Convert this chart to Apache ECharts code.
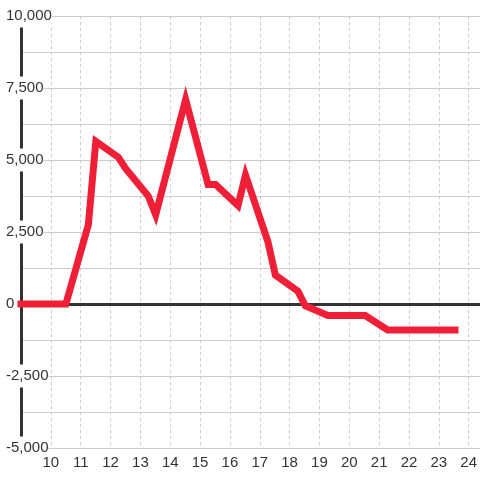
<!DOCTYPE html>
<html>
<head>
<meta charset="utf-8">
<title>Line chart</title>
<script src="https://cdn.jsdelivr.net/npm/echarts@6/dist/echarts.min.js"></script>
<style>
    html, body { margin: 0; padding: 0; background: #fff; }
    #line-chart-container { width: 480px; height: 480px; }
</style>
</head>
<body>
<div id="line-chart-container"></div>
<script>
// Hours (x) and values (y)
var hours  = [9, 10.5, 11.25, 11.5, 12.25, 12.5, 13.25, 13.5, 14.5, 15.25, 15.5, 16.25, 16.5, 17.25, 17.5, 18.25, 18.5, 19.25, 20.5, 21.25, 23.5];
var values = [0, 0, 2750, 5650, 5100, 4700, 3750, 3100, 7100, 4150, 4150, 3420, 4480, 2160, 1000, 450, -60, -400, -400, -900, -900];

// Axis ticks
var xTickLabels = [10, 11, 12, 13, 14, 15, 16, 17, 18, 19, 20, 21, 22, 23, 24];
var yTicks = [-5000, -2500, 0, 2500, 5000, 7500, 10000];

var LineChartBasic = function () {

    var _setLineChart = function () {
        if (typeof echarts == 'undefined') {
            console.warn('Warning - echarts.min.js is not loaded.');
            return;
        }

        // Define element
        var lineChartElement = document.getElementById('line-chart-container');
        if (!lineChartElement) return;

        // Initialize chart
        var lineChart = echarts.init(lineChartElement);

        var points = [];
        for (var i = 0; i < hours.length; i++) {
            points.push([hours[i], values[i]]);
        }

        var xMin = 9;
        var xMax = xTickLabels[xTickLabels.length - 1];

        var option = {
            animation: false,
            textStyle: {
                fontFamily: '"Liberation Sans", Arial, sans-serif'
            },
            // grid 0: data, y axis, horizontal lines (runs to the right edge)
            // grid 1: hour labels and dotted lines (stops at the last hour)
            grid: [{
                left: 21,
                right: 0,
                top: 16,
                bottom: 32
            }, {
                left: 21,
                right: 10,
                top: 16,
                bottom: 32
            }],
            xAxis: [{
                gridIndex: 0,
                type: 'value',
                min: xMin,
                max: 24.335,
                axisLine: {
                    onZero: true,
                    lineStyle: { color: '#333', width: 3 }
                },
                axisTick: { show: false },
                axisLabel: { show: false },
                splitLine: { show: false }
            }, {
                gridIndex: 1,
                type: 'value',
                min: xMin,
                max: xMax,
                interval: 1,
                axisLine: { show: false },
                axisTick: { show: false },
                axisLabel: {
                    color: '#333',
                    fontSize: 15,
                    margin: 7,
                    formatter: function (v) {
                        return xTickLabels.indexOf(v) >= 0 ? String(v) : '';
                    }
                },
                splitLine: {
                    show: true,
                    lineStyle: { color: '#ccc', width: 1, type: [3, 3] }
                }
            }],
            yAxis: [{
                gridIndex: 0,
                type: 'value',
                min: yTicks[0],
                max: yTicks[yTicks.length - 1],
                interval: 2500,
                axisLine: {
                    show: true,
                    lineStyle: { color: '#333', width: 3 }
                },
                axisTick: { show: false },
                axisLabel: {
                    color: '#333',
                    fontSize: 15,
                    align: 'left',
                    margin: 15,
                    backgroundColor: '#fff',
                    padding: [4, 0, 4, 0],
                    formatter: function (v) {
                        return v.toLocaleString('en-US');
                    }
                },
                splitLine: {
                    show: true,
                    lineStyle: { color: '#ccc', width: 1 }
                },
                minorTick: { show: false, splitNumber: 2 },
                minorSplitLine: {
                    show: true,
                    lineStyle: { color: '#ccc', width: 1 }
                }
            }, {
                gridIndex: 1,
                type: 'value',
                min: yTicks[0],
                max: yTicks[yTicks.length - 1],
                show: false
            }],
            series: [{
                type: 'line',
                xAxisIndex: 0,
                yAxisIndex: 0,
                data: points,
                symbol: 'none',
                z: 5,
                lineStyle: {
                    color: '#EE1F36',
                    width: 7,
                    cap: 'square',
                    join: 'miter'
                }
            }]
        };

        lineChart.setOption(option);

        // On window resize
        window.addEventListener('resize', function () {
            lineChart.resize();
        });
    };

    return {
        init: function () {
            _setLineChart();
        }
    }
}();

document.addEventListener('DOMContentLoaded', function () {
    LineChartBasic.init();
});
</script>
</body>
</html>
